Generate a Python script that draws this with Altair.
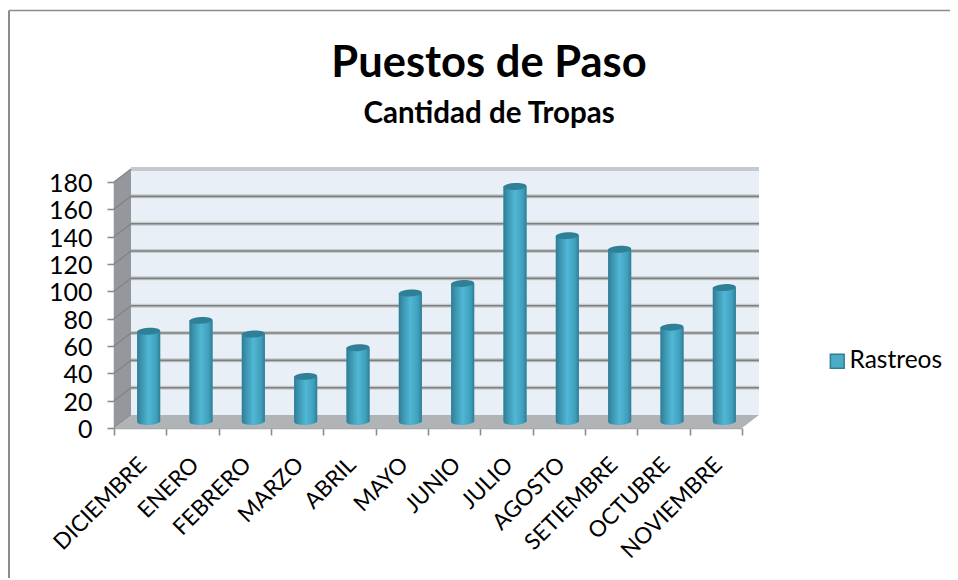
import altair as alt
import pandas as pd

MONTHS = ["DICIEMBRE", "ENERO", "FEBRERO", "MARZO", "ABRIL", "MAYO", "JUNIO",
          "JULIO", "AGOSTO", "SETIEMBRE", "OCTUBRE", "NOVIEMBRE"]
VALUES = [66, 74, 64, 33, 54, 94, 101, 172, 136, 126, 69, 98]
SERIES = "Rastreos"
Y_TICKS = list(range(0, 181, 20))
TITLE = "Puestos de Paso"
SUBTITLE = "Cantidad de Tropas"

FONT = "Lato"
DX, DY = 0.325, 9.5   # 3-D depth of the box, in axis units
HALF = 0.22           # half a cylinder's width, in axis units
N = len(MONTHS)

PW, PH = 628, 246
xs = alt.Scale(domain=[0, N], nice=False, zero=False)
ys = alt.Scale(domain=[0, 180], nice=False)
Y_AXIS = alt.Axis(values=Y_TICKS, title=None, grid=False, tickColor="#8c8c8c", tickWidth=1.6,
                  tickSize=7, domainColor="#8c8c8c", domainWidth=1.5, labelOffset=1.5,
                  labelFont=FONT, labelFontSize=25, labelColor="#000000", labelPadding=15)
X = lambda f: alt.X(f, type="quantitative", scale=xs, axis=None)
Y = lambda f: alt.Y(f, type="quantitative", scale=ys, axis=Y_AXIS)

bars = pd.DataFrame({
    "month": MONTHS, "value": VALUES, "series": SERIES,
    "xc": [i + 0.5 + DX / 2 for i in range(N)],
    "top": [v + DY / 2 for v in VALUES],
    "base": DY / 2,
})
bars["xl"] = bars.xc - HALF
bars["xr"] = bars.xc + HALF

# box
wall = pd.DataFrame({"x": [DX], "x2": [N + DX], "y": [DY], "y2": [180 + DY]})
side = pd.DataFrame({"x": [0, DX], "lo": [0, DY], "hi": [180, 180 + DY]})
floor = pd.DataFrame({"x": [0, DX, N, N + DX], "lo": [0, 0, 0, DY], "hi": [0, DY, DY, DY]})
grid = pd.DataFrame({"x": DX, "x2": N + DX, "y": [v + DY for v in Y_TICKS[1:]]})
diag = pd.DataFrame(
    [{"v": v, "x": 0, "y": v} for v in Y_TICKS] + [{"v": v, "x": DX, "y": v + DY} for v in Y_TICKS]
)

wall_l = alt.Chart(wall).mark_rect(fill="#e8eff6", clip=False).encode(X("x"), x2="x2", y=Y("y"), y2="y2")
side_l = alt.Chart(side).mark_area(fill="#94989c", clip=False).encode(X("x"), Y("hi"), y2="lo")
floor_l = alt.Chart(floor).mark_area(fill="#b1b4b7", clip=False).encode(X("x"), Y("hi"), y2="lo")
grid_soft = alt.Chart(grid).mark_rule(stroke="#c6cacd", strokeWidth=4).encode(X("x"), x2="x2", y=Y("y"))
grid_dark = alt.Chart(grid[grid.y < 185]).mark_rule(stroke="#7f7f7f", strokeWidth=1.6).encode(X("x"), x2="x2", y=Y("y"))
diag_l = alt.Chart(diag).mark_line(stroke="#7f8387", strokeWidth=1.2).encode(X("x"), Y("y"), detail="v:N")

GRAD = alt.Gradient(
    gradient="linear", x1=0, x2=1, y1=0, y2=0,
    stops=[
        alt.GradientStop(offset=0, color="#2f7c94"),
        alt.GradientStop(offset=0.16, color="#3a92ac"),
        alt.GradientStop(offset=0.5, color="#50b7d5"),
        alt.GradientStop(offset=0.84, color="#3f9fbb"),
        alt.GradientStop(offset=1, color="#2f7c94"),
    ],
)
ELLIPSE = "M-1,0A1,0.3,0,1,1,1,0A1,0.3,0,1,1,-1,0Z"
BW = 23

bar_color = alt.Chart(bars).mark_rect().encode(
    X("xl"), x2="xr", y=Y("top"), y2="base",
    color=alt.Color("series:N", scale=alt.Scale(domain=[SERIES], range=["#4bacc6"]),
                    legend=alt.Legend(title=None, orient="none", legendX=711, legendY=167,
                                      symbolType="square", symbolSize=190,
                                      symbolStrokeColor="#2f7c94", symbolStrokeWidth=1.5,
                                      labelFont=FONT, labelFontSize=24.5, labelColor="#000000",
                                      labelOffset=0, symbolOffset=0)),
)
bar_base = alt.Chart(bars).mark_point(shape=ELLIPSE, size=BW**2, filled=True, fill=GRAD, opacity=1, angle=357).encode(X("xc"), Y("base"))
bar_grad = alt.Chart(bars).mark_rect(fill=GRAD).encode(X("xl"), x2="xr", y=Y("top"), y2="base")
bar_top = alt.Chart(bars).mark_point(shape=ELLIPSE, size=BW**2, filled=True, fill="#2f7f97", opacity=1, angle=357).encode(X("xc"), Y("top"))

# axes
axis_df = pd.DataFrame({"x": [0], "y": [0]})
tick_layer = alt.Chart(axis_df).mark_point(opacity=0).encode(
    alt.X("x:Q", scale=xs, axis=alt.Axis(orient="bottom", values=list(range(N + 1)), labels=False, title=None, grid=False,
                                         tickColor="#8c8c8c", tickWidth=1.6, tickSize=7,
                                         domainColor="#a9acaf", domainWidth=1.5)),
    Y("y"),
)
label_layer = alt.Chart(bars.assign(zero=0)).mark_point(opacity=0).encode(
    alt.X("month:N", sort=MONTHS, scale=alt.Scale(type="band", domain=MONTHS, paddingInner=0, paddingOuter=0),
          axis=alt.Axis(orient="bottom", title=None, ticks=False, domain=False, grid=False, labelAngle=315, labelAlign="right",
                        labelBaseline="top", labelFont=FONT, labelFontSize=22.5, labelColor="#000000",
                        labelPadding=25, labelOffset=-5, labelOverlap=False)),
    Y("zero"),
)

# outer frame of the chart, in axis units
FL, FR = -105 / PW * N, 836 / PW * N
FT, FB = (246 + 171.5) / PH * 180, -150 / PH * 180
frame_top = alt.Chart(pd.DataFrame({"x": [FL], "x2": [FR], "y": [FT]})).mark_rule(
    stroke="#8c8c8c", strokeWidth=1.5, clip=False).encode(X("x"), x2="x2", y=Y("y"))
frame_left = alt.Chart(pd.DataFrame({"x": [FL], "y": [FT], "y2": [FB]})).mark_rule(
    stroke="#8c8c8c", strokeWidth=2, clip=False).encode(X("x"), Y("y"), y2="y2")

chart = alt.layer(
    frame_top, frame_left, wall_l, grid_soft, grid_dark, side_l, diag_l, floor_l, tick_layer,
    bar_color, bar_base, bar_grad, bar_top, label_layer,
).resolve_scale(x="independent").properties(
    width=PW, height=PH,
    title=alt.TitleParams(TITLE, subtitle=SUBTITLE, anchor="middle", dx=61, offset=-120,
                          font=FONT, fontSize=43.5, fontWeight="bold", color="#000000",
                          subtitleFont=FONT, subtitleFontSize=29.5, subtitleFontWeight="bold",
                          subtitleColor="#000000", subtitlePadding=14),
    padding={"left": 106, "top": 174, "right": 208, "bottom": 150},
    autosize=alt.AutoSizeParams(type="none"),
    background="white",
).configure_view(stroke=None)

chart.save("out.html", embed_options={"renderer": "svg", "actions": False})
